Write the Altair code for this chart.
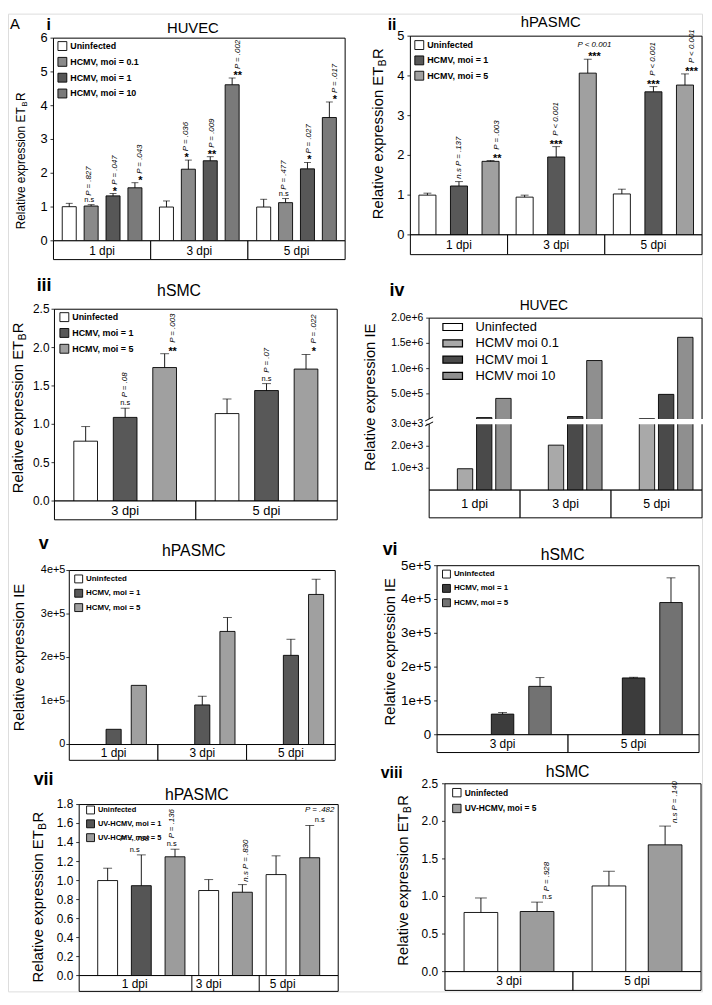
import altair as alt
import pandas as pd

FONT = "Liberation Sans"

# ---------------- Panel i : HUVEC, ETBR ----------------
I_GROUPS = ["1 dpi", "3 dpi", "5 dpi"]
I_SERIES = ["Uninfected", "HCMV, moi = 0.1", "HCMV, moi = 1", "HCMV, moi = 10"]
I_MEAN = [[1.01, 1.00, 1.00], [1.03, 2.12, 1.13], [1.33, 2.37, 2.13], [1.57, 4.62, 3.65]]
I_SEM = [[0.10, 0.18, 0.23], [0.04, 0.27, 0.12], [0.07, 0.12, 0.19], [0.15, 0.20, 0.46]]
I_NOTES = [
    ("1 dpi", "HCMV, moi = 0.1", "n.s", "P = .827", "rot"),
    ("1 dpi", "HCMV, moi = 1", "*", "P = .047", "rot"),
    ("1 dpi", "HCMV, moi = 10", "*", "P = .043", "rot"),
    ("3 dpi", "HCMV, moi = 0.1", "*", "P = .036", "rot"),
    ("3 dpi", "HCMV, moi = 1", "**", "P = .009", "rot"),
    ("3 dpi", "HCMV, moi = 10", "**", "P = .002", "rot"),
    ("5 dpi", "HCMV, moi = 0.1", "n.s", "P = .477", "rot"),
    ("5 dpi", "HCMV, moi = 1", "*", "P = .027", "rot"),
    ("5 dpi", "HCMV, moi = 10", "*", "P = .017", "rot"),
]
I_YTICKS = [0, 1, 2, 3, 4, 5, 6]
I_YLABELS = ["0", "1", "2", "3", "4", "5", "6"]

# ---------------- Panel ii : hPASMC, ETBR ----------------
II_GROUPS = ["1 dpi", "3 dpi", "5 dpi"]
II_SERIES = ["Uninfected", "HCMV, moi = 1", "HCMV, moi = 5"]
II_MEAN = [[1.00, 0.95, 1.03], [1.23, 1.96, 3.60], [1.85, 4.07, 3.77]]
II_SEM = [[0.05, 0.05, 0.12], [0.11, 0.26, 0.13], [0.02, 0.35, 0.28]]
II_NOTES = [
    ("1 dpi", "HCMV, moi = 1", "n.s", "P = .137", "allrot"),
    ("1 dpi", "HCMV, moi = 5", "**", "P = .003", "rot"),
    ("3 dpi", "HCMV, moi = 1", "***", "P < 0.001", "rot"),
    ("3 dpi", "HCMV, moi = 5", "***", "P < 0.001", "hor"),
    ("5 dpi", "HCMV, moi = 1", "***", "P < 0.001", "rot"),
    ("5 dpi", "HCMV, moi = 5", "***", "P < 0.001", "rot"),
]
II_YTICKS = [0, 1, 2, 3, 4, 5]
II_YLABELS = ["0", "1", "2", "3", "4", "5"]

# ---------------- Panel iii : hSMC, ETBR ----------------
III_GROUPS = ["3 dpi", "5 dpi"]
III_SERIES = ["Uninfected", "HCMV, moi = 1", "HCMV, moi = 5"]
III_MEAN = [[0.78, 1.14], [1.09, 1.44], [1.74, 1.72]]
III_SEM = [[0.19, 0.19], [0.12, 0.09], [0.18, 0.19]]
III_NOTES = [
    ("3 dpi", "HCMV, moi = 1", "n.s", "P = .08", "rot"),
    ("3 dpi", "HCMV, moi = 5", "**", "P = .003", "rot"),
    ("5 dpi", "HCMV, moi = 1", "n.s", "P = .07", "rot"),
    ("5 dpi", "HCMV, moi = 5", "*", "P = .022", "rot"),
]
III_YTICKS = [0.0, 0.5, 1.0, 1.5, 2.0, 2.5]
III_YLABELS = ["0.0", "0.5", "1.0", "1.5", "2.0", "2.5"]

# ---------------- Panel iv : HUVEC, IE (broken axis) ----------------
IV_GROUPS = ["1 dpi", "3 dpi", "5 dpi"]
IV_SERIES = ["Uninfected", "HCMV moi 0.1", "HCMV moi 1", "HCMV moi 10"]
IV_MEAN = [[None, None, None], [975, 2050, 8000], [30000, 50000, 490000], [410000, 1160000, 1620000]]
IV_YTICKS = [1000, 2000, 3000, 500000, 1000000, 1500000, 2000000]
IV_YLABELS = ["1.0e+3", "2.0e+3", "3.0e+3", "5.0e+5", "1.0e+6", "1.5e+6", "2.0e+6"]
IV_BREAK = [3000, 3001]

# ---------------- Panel v : hPASMC, IE ----------------
V_GROUPS = ["1 dpi", "3 dpi", "5 dpi"]
V_SERIES = ["Uninfected", "HCMV, moi = 1", "HCMV, moi = 5"]
V_MEAN = [[None, None, None], [35000, 91000, 205000], [136000, 260000, 345000]]
V_SEM = [[None, None, None], [None, 20000, 37000], [None, 32000, 35000]]
V_YTICKS = [0, 100000, 200000, 300000, 400000]
V_YLABELS = ["0", "1e+5", "2e+5", "3e+5", "4e+5"]

# ---------------- Panel vi : hSMC, IE ----------------
VI_GROUPS = ["3 dpi", "5 dpi"]
VI_SERIES = ["Uninfected", "HCMV, moi = 1", "HCMV, moi = 5"]
VI_MEAN = [[None, None], [61000, 168000], [143000, 391000]]
VI_SEM = [[None, None], [5000, 2000], [26000, 73000]]
VI_YTICKS = [0, 100000, 200000, 300000, 400000, 500000]
VI_YLABELS = ["0", "1e+5", "2e+5", "3e+5", "4e+5", "5e+5"]

# ---------------- Panel vii : hPASMC, UV ----------------
VII_GROUPS = ["1 dpi", "3 dpi", "5 dpi"]
VII_SERIES = ["Uninfected", "UV-HCMV, moi = 1", "UV-HCMV, moi = 5"]
VII_MEAN = [[1.00, 0.895, 1.063], [0.946, None, None], [1.25, 0.877, 1.24]]
VII_SEM = [[0.13, 0.115, 0.197], [0.324, None, None], [0.08, 0.08, 0.34]]
VII_NOTES = [
    ("1 dpi", "UV-HCMV, moi = 1", "n.s", "P = .798", "hor"),
    ("1 dpi", "UV-HCMV, moi = 5", "n.s", "P = .136", "rot"),
    ("3 dpi", "UV-HCMV, moi = 5", "n.s", "P = .830", "allrot"),
    ("5 dpi", "UV-HCMV, moi = 5", "n.s", "P = .482", "hor"),
]
VII_YTICKS = [0.0, 0.2, 0.4, 0.6, 0.8, 1.0, 1.2, 1.4, 1.6, 1.8]
VII_YLABELS = ["0.0", "0.2", "0.4", "0.6", "0.8", "1.0", "1.2", "1.4", "1.6", "1.8"]

# ---------------- Panel viii : hSMC, UV ----------------
VIII_GROUPS = ["3 dpi", "5 dpi"]
VIII_SERIES = ["Uninfected", "UV-HCMV, moi = 5"]
VIII_MEAN = [[0.787, 1.14], [0.80, 1.687]]
VIII_SEM = [[0.193, 0.196], [0.125, 0.25]]
VIII_NOTES = [
    ("3 dpi", "UV-HCMV, moi = 5", "n.s", "P = .928", "rot"),
    ("5 dpi", "UV-HCMV, moi = 5", "n.s", "P = .140", "allrot"),
]
VIII_YTICKS = [0.0, 0.5, 1.0, 1.5, 2.0, 2.5]
VIII_YLABELS = ["0.0", "0.5", "1.0", "1.5", "2.0", "2.5"]

DUMMY = pd.DataFrame({"d": [0]})


def deco_text(text, x, y, **kw):
    kw.setdefault("color", "black")
    kw.setdefault("font", FONT)
    return alt.Chart(DUMMY).mark_text(text=text, **kw).encode(x=alt.value(x), y=alt.value(y))


def panel_layers(c):
    px, py, W, H, k = c["px"], c["py"], c["W"], c["H"], c["key"]
    G, S, V, T, SL = "dpi_" + k, "grp_" + k, "val_" + k, "top_" + k, "slot_" + k
    groups, series = c["groups"], c["series"]
    slot_mode = c.get("slots", False)

    def slot_name(g, s):
        return g + " \u00b7 " + s

    rows = []
    for si, s in enumerate(series):
        for gi, g in enumerate(groups):
            m = c["mean"][si][gi]
            if m is None:
                continue
            e = c["sem"][si][gi] if c.get("sem") else None
            rows.append({G: g, S: s, SL: slot_name(g, s), V: m,
                         T: (m + e) if e is not None else m, "err": e is not None})
    df = pd.DataFrame(rows)
    slots = [slot_name(g, s) for gi, g in enumerate(groups) for si, s in enumerate(series)
             if c["mean"][si][gi] is not None]

    if slot_mode:
        XS = alt.X(f"{SL}:N", scale=alt.Scale(domain=slots, range=[px, px + W], paddingInner=c["pi"],
                                               paddingOuter=c["po"]), axis=None, title=None)

        def P():
            return dict(x=XS)
    else:
        X = alt.X(f"{G}:N", scale=alt.Scale(domain=groups, range=[px, px + W], paddingInner=0,
                                             paddingOuter=0), axis=None, title=None)
        XO = alt.XOffset(f"{S}:N", scale=alt.Scale(domain=series, paddingInner=c["pi"],
                                                    paddingOuter=c["po"]))

        def P():
            return dict(x=X, xOffset=XO)

    rel = c.get("yrange", [H, 0])
    yscale = alt.Scale(domain=c["ydomain"], range=[py + r for r in rel], nice=False)

    def Y(f):
        return alt.Y(f"{f}:Q", scale=yscale, axis=None, title=None)

    lg = c["legend"]
    legend = alt.Legend(orient="none", legendX=px + lg["x"], legendY=py + lg["y"], title=None,
                        symbolType=lg.get("shape", "square"), symbolSize=lg["size"],
                        symbolStrokeColor="black", symbolStrokeWidth=lg.get("sw", 0.9),
                        labelFontSize=lg["font"], labelFontWeight=lg.get("weight", "bold"),
                        labelFont=FONT, labelColor="black", rowPadding=lg["rp"],
                        labelOffset=lg.get("lo", 3), padding=0, labelLimit=300)

    L = []
    # plot frame
    L.append(alt.Chart(DUMMY).mark_rect(fill="white", stroke="black", strokeWidth=1).encode(
        x=alt.value(px), x2=alt.value(px + W), y=alt.value(py), y2=alt.value(py + H)))
    # bars
    L.append(alt.Chart(df).mark_bar(stroke="black", strokeWidth=0.9).encode(
        y=Y(V), fill=alt.Fill(f"{S}:N", scale=alt.Scale(domain=series, range=c["colors"]), legend=legend),
        **P()))
    # error bars
    dferr = df[df["err"]]
    if len(dferr):
        L.append(alt.Chart(dferr).mark_rule(color="black", strokeWidth=0.9).encode(
            y=Y(V), y2=alt.Y2(f"{T}:Q"), **P()))
        L.append(alt.Chart(dferr).mark_tick(color="black", thickness=0.9, size=c["cap"]).encode(
            y=Y(T), **P()))

    # significance annotations
    notes = c.get("notes", [])
    if notes:
        top = {(r[G], r[S]): r[T] for r in rows}
        nd = pd.DataFrame([{G: g, S: s, SL: slot_name(g, s), T: top[(g, s)], "sig": sig, "p": p,
                            "mode": mode, "full": sig + "  " + p} for g, s, sig, p, mode in notes])
        stars = nd[(nd["mode"] != "allrot") & (nd["sig"] != "n.s")]
        ns = nd[(nd["mode"] != "allrot") & (nd["sig"] == "n.s")]
        if len(stars):
            L.append(alt.Chart(stars).mark_text(baseline="bottom", dy=3, fontSize=11, fontWeight="bold",
                                                font=FONT, color="black").encode(
                y=Y(T), text="sig:N", **P()))
        if len(ns):
            L.append(alt.Chart(ns).mark_text(baseline="bottom", dy=-1, fontSize=7.5, font=FONT,
                                             color="black").encode(
                y=Y(T), text="sig:N", **P()))
        rot = nd[nd["mode"] == "rot"]
        if len(rot):
            L.append(alt.Chart(rot).mark_text(angle=270, align="left", baseline="middle", dx=c["pgap"],
                                              fontSize=c["pfs"], fontStyle="italic", font=FONT,
                                              color="black").encode(
                y=Y(T), text="p:N", **P()))
        allrot = nd[nd["mode"] == "allrot"]
        if len(allrot):
            L.append(alt.Chart(allrot).mark_text(angle=270, align="left", baseline="middle", dx=3,
                                                 fontSize=c["pfs"], fontStyle="italic", font=FONT,
                                                 color="black").encode(
                y=Y(T), text="full:N", **P()))
        hor = nd[nd["mode"] == "hor"]
        if len(hor):
            L.append(alt.Chart(hor).mark_text(align="center", baseline="bottom", dy=c.get("hdy", -10),
                                              dx=c.get("hdx", 0),
                                              fontSize=c["pfs"], fontStyle="italic", font=FONT,
                                              color="black").encode(
                y=Y(T), text="p:N", **P()))

    # broken axis (panel iv)
    if "brk" in c:
        b0, b1 = c["brk"]
        L.append(alt.Chart(pd.DataFrame({V: [b0], T: [b1]})).mark_rect(color="white").encode(
            x=alt.value(px - 2), x2=alt.value(px + W + 2), y=Y(V), y2=alt.Y2(f"{T}:Q")))
        for yy in c["slashes"]:
            L.append(alt.Chart(DUMMY).mark_rule(color="black", strokeWidth=1).encode(
                x=alt.value(px - 4), x2=alt.value(px + 4), y=alt.value(py + yy + 2), y2=alt.value(py + yy - 2)))

    # y axis: ticks and labels through the panel's y scale
    tdf = pd.DataFrame({V: c["yticks"], "lab": c["ylabels"]})
    L.append(alt.Chart(tdf).mark_rule(color="black", strokeWidth=0.8).encode(
        x=alt.value(px - 3), x2=alt.value(px), y=Y(V)))
    L.append(alt.Chart(tdf).mark_text(align="right", baseline="middle", fontSize=c["ylab"], font=FONT,
                                      color="black").encode(
        x=alt.value(px - 3 - c.get("lpad", 3)), y=Y(V), text="lab:N"))

    # category strip under the plot
    sh = c["sh"]
    sy0, sy1 = py + H, py + H + sh
    if slot_mode:
        strip_scale = alt.Scale(domain=slots, range=[px, px + W], paddingInner=0,
                                paddingOuter=c["po"] - c["pi"] / 2)
        L.append(alt.Chart(DUMMY).mark_rect(fill="white", stroke="black", strokeWidth=1).encode(
            x=alt.value(px), x2=alt.value(px + W), y=alt.value(sy0), y2=alt.value(sy1)))
        members = {g: [sl for sl in slots if sl.startswith(g + " \u00b7")] for g in groups}
        firsts = pd.DataFrame({SL: [members[g][0] for g in groups[1:]]})
        L.append(alt.Chart(firsts).mark_rule(color="black", strokeWidth=1).encode(
            x=alt.X(f"{SL}:N", scale=strip_scale, bandPosition=0, axis=None),
            y=alt.value(sy0), y2=alt.value(sy1)))
        odd = pd.DataFrame([{SL: members[g][len(members[g]) // 2], G: g} for g in groups
                            if len(members[g]) % 2 == 1])
        even = pd.DataFrame([{SL: members[g][len(members[g]) // 2 - 1], G: g} for g in groups
                             if len(members[g]) % 2 == 0])
        for part, bp in ((odd, 0.5), (even, 1)):
            if len(part):
                L.append(alt.Chart(part).mark_text(fontSize=c.get("sfs", 12), font=FONT, color="black",
                                                   baseline="middle").encode(
                    x=alt.X(f"{SL}:N", scale=strip_scale, bandPosition=bp, axis=None),
                    y=alt.value((sy0 + sy1) / 2 + 0.5), text=f"{G}:N"))
    else:
        gdf = pd.DataFrame({G: groups})
        L.append(alt.Chart(gdf).mark_rect(fill="white", stroke="black", strokeWidth=1).encode(
            x=X, y=alt.value(sy0), y2=alt.value(sy1)))
        L.append(alt.Chart(gdf).mark_text(fontSize=c.get("sfs", 12), font=FONT, color="black",
                                          baseline="middle").encode(
            x=X, y=alt.value((sy0 + sy1) / 2 + 0.5), text=f"{G}:N"))

    # titles and labels
    L.append(deco_text(c["title"], px + c["tx"], py + c["ty"], fontSize=c["tfs"], align="center",
                       baseline="alphabetic"))
    L.append(deco_text(c["label"], px + c["lx"], py + c["ly"], fontSize=c["lfs"], fontWeight="bold",
                       align="left", baseline="alphabetic"))
    if "extra" in c:
        t, x, y, fs = c["extra"]
        L.append(deco_text(t, px + x, py + y, fontSize=fs, align="left", baseline="alphabetic"))

    fs = c["yfs"]
    bx = px + c["bx"]
    if c["sub"]:
        jy = py + c["jy"]
        L.append(deco_text("Relative expression ET", bx, jy, fontSize=fs, angle=270,
                           align="right", baseline="alphabetic"))
        L.append(deco_text("B", bx, jy, fontSize=fs * 0.68, angle=270, align="left",
                           baseline="alphabetic", dy=fs * 0.2, dx=0.5))
        L.append(deco_text("R", bx, jy, fontSize=fs, angle=270, align="left",
                           baseline="alphabetic", dx=0.5 + 0.667 * fs * 0.68 + 0.5))
    else:
        L.append(deco_text("Relative expression IE", bx, py + c["cy"], fontSize=fs, angle=270,
                           align="center", baseline="alphabetic"))
    return L


GRAY_DARK = "#585858"
GRAY_HATCH = "#a0a0a0"

PANELS = [
    dict(key="i", px=46, py=24.8, W=295, H=205, sh=19, groups=I_GROUPS, series=I_SERIES, mean=I_MEAN,
         sem=I_SEM, notes=I_NOTES, ydomain=[0, 6], yticks=I_YTICKS, ylabels=I_YLABELS, ylab=13, lpad=3,
         pi=0.36, po=0.4, cap=7, colors=["white", "#8a8a8a", "#575757", "#7a7a7a"],
         legend=dict(x=4, y=3, size=81, font=9, rp=2), pgap=9, pfs=8,
         title="HUVEC", tx=141, ty=-5, tfs=15, label="i", lx=-7, ly=-8, lfs=16, extra=("A", -44, -9, 15),
         sub=True, yfs=12, bx=-29, jy=70),
    dict(key="ii", px=407, py=22.8, W=295, H=201, sh=20, groups=II_GROUPS, series=II_SERIES, mean=II_MEAN,
         sem=II_SEM, notes=II_NOTES, ydomain=[0, 5], yticks=II_YTICKS, ylabels=II_YLABELS, ylab=13, lpad=3,
         pi=0.46, po=0.27, cap=8, colors=["white", GRAY_DARK, GRAY_HATCH],
         legend=dict(x=4, y=4, size=81, font=9, rp=1.5), pgap=11, pfs=8,
         title="hPASMC", tx=142, ty=-9, tfs=15, label="ii", lx=-23, ly=-6, lfs=16,
         sub=True, yfs=15, bx=-28, jy=31),
    dict(key="iii", px=47, py=299, W=286, H=194, sh=19, groups=III_GROUPS, series=III_SERIES,
         mean=III_MEAN, sem=III_SEM, notes=III_NOTES, ydomain=[0, 2.5], yticks=III_YTICKS,
         ylabels=III_YLABELS, ylab=12, lpad=2, pi=0.4, po=0.49, cap=9, colors=["white", GRAY_DARK, GRAY_HATCH],
         legend=dict(x=5, y=3, size=81, font=9, rp=2), pgap=11, pfs=8, sfs=13,
         title="hSMC", tx=126, ty=-13, tfs=16, label="iii", lx=-18, ly=-18, lfs=18,
         sub=True, yfs=15, bx=-32, jy=32),
    dict(key="iv", px=426, py=308, W=276, H=174, sh=28, groups=IV_GROUPS, series=IV_SERIES, mean=IV_MEAN,
         ydomain=[0, 3000, 3001, 2000000], yrange=[174, 107.4, 102, 0], yticks=IV_YTICKS,
         ylabels=IV_YLABELS, ylab=10.5, lpad=3, pi=0.2, po=0.47, cap=8,
         colors=["white", "#a9a9a9", "#4a4a4a", "#8f8f8f"],
         legend=dict(x=15.8, y=1, size=200, font=13, rp=1.5, weight="normal", lo=15, sw=1.2,
                     shape="M-1.4,-0.5H1.4V0.5H-1.4Z"),
         brk=IV_BREAK, slashes=[107, 102], sfs=12.5,
         title="HUVEC", tx=116, ty=-8, tfs=14, label="iv", lx=-40, ly=-22, lfs=18,
         sub=False, yfs=15, bx=-55, cy=80),
    dict(key="v", px=62, py=563.3, W=269, H=176, sh=16, groups=V_GROUPS, series=V_SERIES, mean=V_MEAN,
         sem=V_SEM, ydomain=[0, 400000], yticks=V_YTICKS, ylabels=V_YLABELS, ylab=11, lpad=1,
         pi=0.4, po=0.46, cap=9, colors=["white", GRAY_DARK, GRAY_HATCH],
         legend=dict(x=5, y=4, size=64, font=8, rp=1.5),
         title="hPASMC", tx=126, ty=-15, tfs=16, label="v", lx=-31, ly=-22, lfs=18,
         sub=False, yfs=15, bx=-46, cy=88),
    dict(key="vi", px=434, py=558.4, W=265, H=171, sh=18, groups=VI_GROUPS, series=VI_SERIES, mean=VI_MEAN,
         sem=VI_SEM, ydomain=[0, 500000], yticks=VI_YTICKS, ylabels=VI_YLABELS, ylab=13.5, lpad=3,
         pi=0.4, po=0.45, cap=9, colors=["white", "#3c3c3c", "#727272"],
         legend=dict(x=5, y=4, size=64, font=8, rp=1.5),
         title="hSMC", tx=127, ty=-6, tfs=16, label="vi", lx=-55, ly=-11, lfs=18,
         sub=False, yfs=15, bx=-43, cy=87),
    dict(key="vii", px=72, py=800, W=262, H=173, sh=16, groups=VII_GROUPS, series=VII_SERIES,
         mean=VII_MEAN, sem=VII_SEM, notes=VII_NOTES, ydomain=[0, 1.8], yticks=VII_YTICKS,
         ylabels=VII_YLABELS, ylab=12, lpad=3, slots=True, pi=0.41, po=0.55, cap=9,
         colors=["white", "#555555", "#9c9c9c"],
         legend=dict(x=7, y=1, size=64, font=7.5, rp=1), pgap=11, pfs=8, hdy=-12,
         title="hPASMC", tx=119, ty=-5, tfs=16, label="vii", lx=-46, ly=-20, lfs=18,
         sub=True, yfs=15, bx=-37, jy=26),
    dict(key="viii", px=442, py=779, W=259, H=190, sh=19, groups=VIII_GROUPS, series=VIII_SERIES,
         mean=VIII_MEAN, sem=VIII_SEM, notes=VIII_NOTES, ydomain=[0, 2.5], yticks=VIII_YTICKS,
         ylabels=VIII_YLABELS, ylab=12, lpad=4, pi=0.4, po=0.34, cap=12, colors=["white", "#9c9c9c"],
         legend=dict(x=7, y=4, size=72, font=8.5, rp=2), pgap=11, pfs=8,
         title="hSMC", tx=124, ty=-7, tfs=16, label="viii", lx=-65, ly=-6, lfs=16,
         sub=True, yfs=15, bx=-37, jy=30),
]

all_layers = []
for cfg in PANELS:
    all_layers.extend(panel_layers(cfg))

chart = alt.layer(*all_layers).resolve_scale(
    x="independent", y="independent", xOffset="independent", fill="independent"
).properties(
    width=702, height=989, padding={"left": 0, "top": 0, "right": 0, "bottom": 0}
).configure_view(strokeWidth=0).configure(font=FONT)

chart.save("out.html", embed_options={"renderer": "svg", "actions": False})
